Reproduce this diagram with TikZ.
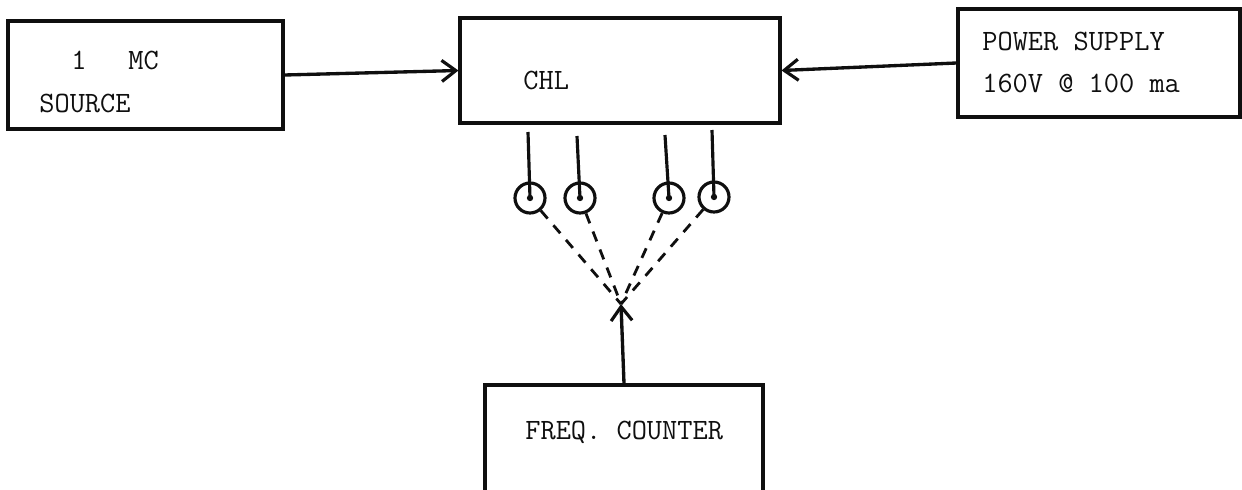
\documentclass[tikz,border=0pt]{standalone}
\usepackage{tikz}
\usetikzlibrary{arrows.meta}
\definecolor{inkcolor}{RGB}{15, 15, 15}

\begin{document}
\begin{tikzpicture}[x=0.02cm, y=-0.02cm,
    box/.style={draw=inkcolor, line width=1.8pt, inner sep=0pt},
    label/.style={inkcolor, font=\fontsize{16.8}{20}\selectfont\ttfamily, anchor=west, inner sep=0pt},
    feed/.style={draw=inkcolor, line width=1.9pt, -{Straight Barb[length=8pt, width=12pt, line width=1.8pt]}},
    jack/.style={circle, draw=inkcolor, line width=1.8pt, minimum size=0.6cm, inner sep=0pt},
    probe/.style={draw=inkcolor, line width=1.6pt, dash pattern=on 6pt off 5pt}]
    \useasboundingbox (0,0) rectangle (1242,490);
    \clip (0,0) rectangle (1242,490);

    % Blocks
    \node[box, minimum width=5.5cm, minimum height=2.16cm] (src) at (145.5,75) {};
    \node[box, minimum width=6.4cm, minimum height=2.1cm] (chl) at (620,70.5) {};
    \node[box, minimum width=5.64cm, minimum height=2.16cm] (psu) at (1099,63) {};
    \node[box, minimum width=5.56cm, minimum height=2.7cm] (cnt) at (624,452.5) {};

    % Texts
    \node[label] (one) at (71,60) {1};
    \node[label] (mc) at (128,60) {MC};
    \node[label] (srctext) at (39,103) {SOURCE};
    \node[label] (chltext) at (523,80) {CHL};
    \node[label] (psutext) at (982,41) {POWER SUPPLY};
    \node[label] (volts) at (982,83) {160V @ 100 ma};
    \node[label] (cnttext) at (525,432) {FREQ.\ COUNTER};

    % Feeds into CHL
    \draw[feed] (src.east) -- (chl.west);
    \draw[feed] (psu.west) -- (chl.east);

    % Output jacks
    \foreach \i/\tx/\ty/\px/\py in {1/528/132/530/198, 2/577/136/580/198, 3/665/135/669/198, 4/712/130/714/197} {
        \coordinate (t\i) at (\tx,\ty);
        \node[jack] (p\i) at (\px,\py) {};
        \draw[inkcolor, line width=1.8pt] (t\i) -- (p\i.center);
        \fill[inkcolor] (p\i.center) circle (1.8pt);
    }

    % Probe leads to counter
    \coordinate (apex) at (621,304);
    \foreach \i in {1,...,4}
        \draw[probe] (p\i) -- (apex);
    \draw[feed] (cnt.north) -- (apex);
\end{tikzpicture}
\end{document}
